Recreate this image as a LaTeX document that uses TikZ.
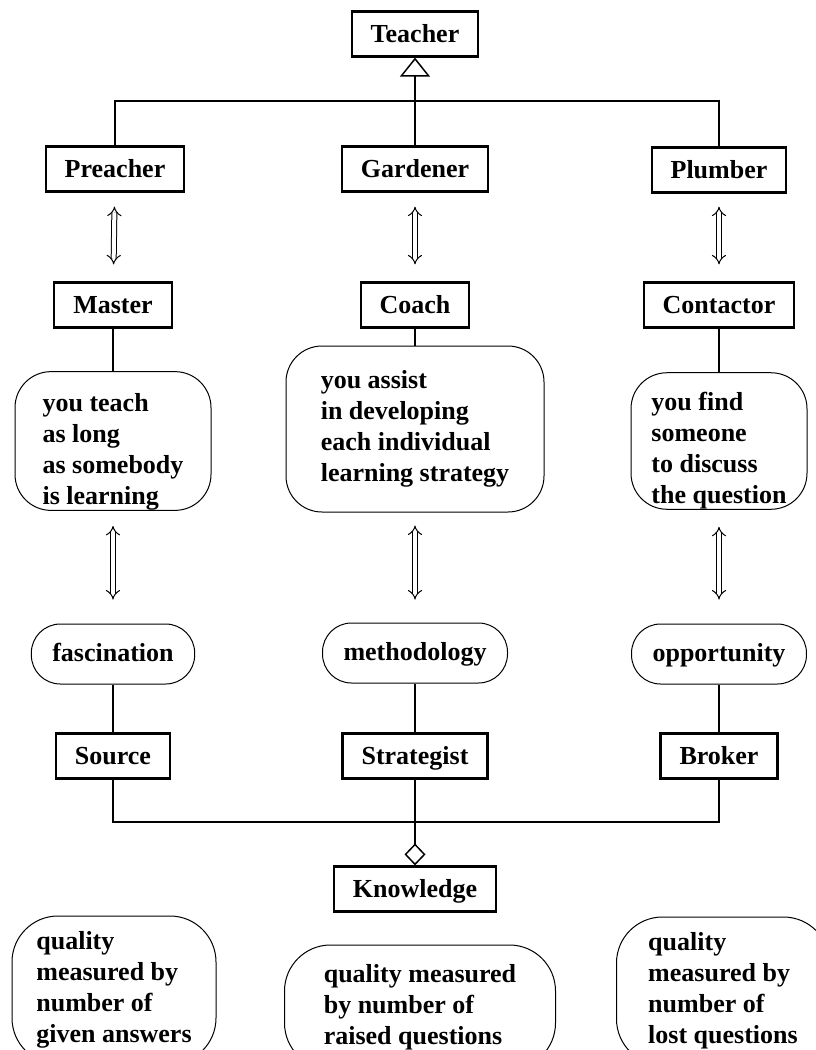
\documentclass[tikz,border=0pt]{standalone}
\usepackage{fontspec}
\setmainfont{Liberation Serif}
\usetikzlibrary{arrows.meta}

\begin{document}
\begin{tikzpicture}[x=1pt,y=-1pt,
  every node/.style={font=\fontsize{26}{31}\selectfont\bfseries},
  box/.style={draw,line width=2.2pt,inner xsep=19pt,text height=20pt,text depth=4pt,minimum height=45pt},
  pill/.style={draw,line width=1pt,rounded corners=29pt,inner xsep=21pt,text height=19pt,text depth=5pt,minimum height=60pt},
  blob/.style={draw,line width=1pt,rounded corners=36pt,align=left},
  note/.style={draw,line width=1pt,rounded corners=46pt,align=left},
  link/.style={line width=1.5pt},
  twoway/.style={double,line width=1pt,double distance=4pt,
    {Implies[length=7pt,width=16pt]}-{Implies[length=7pt,width=16pt]}}]
  \clip (0,0) rectangle (816,1050);
  % top of the hierarchy
  \node[box] (teacher) at (415,34) {Teacher};
  \node[box] (preacher) at (115,169) {Preacher};
  \node[box] (gardener) at (415,169) {Gardener};
  \node[box] (plumber) at (719,170) {Plumber};
  \coordinate (tophub) at (415,101);
  \draw[link] (preacher.north) |- (tophub) -| (plumber.north);
  \draw[link] (gardener.north) -- (tophub);
  \draw[link,-{Triangle[open,width=30pt,length=19pt]}] (tophub) -- (teacher.south);
  % roles
  \node[box] (master) at (113,305) {Master};
  \node[box] (coach) at (415,305) {Coach};
  \node[box] (contactor) at (719,305) {Contactor};
  \draw[twoway,shorten <=14pt,shorten >=17pt] (preacher) -- (master);
  \draw[twoway,shorten <=14pt,shorten >=17pt] (gardener) -- (coach);
  \draw[twoway,shorten <=13pt,shorten >=17pt] (plumber) -- (contactor);
  % what they do
  \node[blob,inner ysep=0pt,minimum width=196pt,minimum height=137pt] (teach) at (113,441) {\rule{0pt}{40pt}you teach\\as long\\as somebody\\is learning};
  \node[blob,minimum width=258pt,minimum height=166pt] (assist) at (415,429) {you assist\\in developing\\each individual\\learning strategy};
  \node[blob,inner ysep=0pt,minimum width=176pt,minimum height=132pt] (find) at (719,441) {\rule{0pt}{38pt}you find\\someone\\to discuss\\the question};
  \draw[link] (master) -- (teach);
  \draw[link] (coach) -- (assist);
  \draw[link] (contactor) -- (find);
  \node[pill] (fascination) at (113,654) {fascination};
  \node[pill] (methodology) at (415,653) {methodology};
  \node[pill] (opportunity) at (719,654) {opportunity};
  \draw[twoway,shorten <=15pt,shorten >=24pt] (teach) -- (fascination);
  \draw[twoway,shorten <=13pt,shorten >=23pt] (assist) -- (methodology);
  \draw[twoway,shorten <=17pt,shorten >=24pt] (find) -- (opportunity);
  % knowledge side
  \node[box] (source) at (113,756) {Source};
  \node[box] (strategist) at (415,756) {Strategist};
  \node[box] (broker) at (719,756) {Broker};
  \draw[link] (fascination) -- (source);
  \draw[link] (methodology) -- (strategist);
  \draw[link] (opportunity) -- (broker);
  \node[box] (knowledge) at (415,889) {Knowledge};
  \coordinate (bothub) at (415,822);
  \draw[link] (source.south) |- (bothub) -| (broker.south);
  \draw[link] (strategist.south) -- (bothub);
  \draw[link,-{Diamond[open,width=21pt,length=22pt]}] (bothub) -- (knowledge.north);
  % quality notes
  \node[note,minimum width=204pt,minimum height=148pt] (given) at (114,990) {quality\\measured by\\number of\\given answers};
  \node[note,minimum width=271pt,minimum height=124pt] (raised) at (420,1007) {quality measured\\by number of\\raised questions};
  \node[note,minimum width=213pt,minimum height=148pt] (lost) at (723,991) {quality\\measured by\\number of\\lost questions};
\end{tikzpicture}
\end{document}
